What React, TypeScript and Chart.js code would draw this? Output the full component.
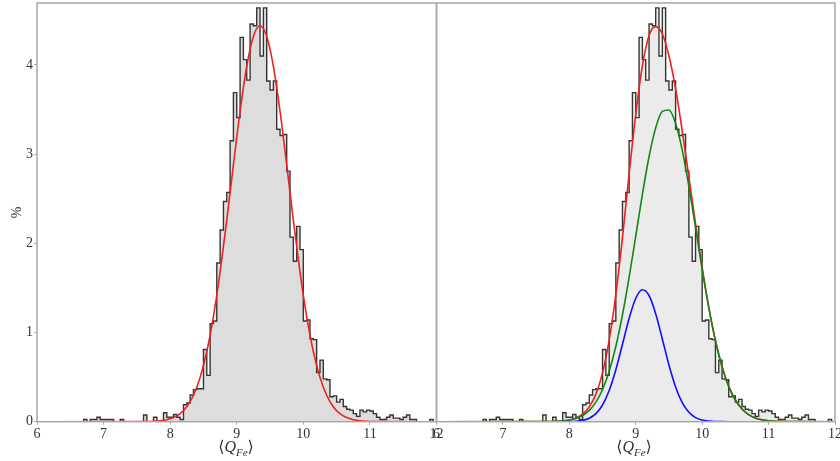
import React, { useEffect, useRef } from "react";
import { Chart, registerables } from "chart.js";

Chart.register(...registerables);

// ---------- data ----------
const BIN_START = 6;
const BIN_WIDTH = 0.05;
// percent per bin, bins of width 0.05 from 6.00 to 12.00
const HIST_PERCENT = [
  0, 0, 0, 0, 0, 0, 0, 0, 0, 0,
  0, 0, 0, 0, 0.025, 0, 0.025, 0.025, 0.05, 0.025,
  0.025, 0.025, 0.025, 0, 0, 0.025, 0, 0, 0, 0,
  0, 0, 0.075, 0, 0, 0.05, 0, 0, 0.1, 0.05,
  0.05, 0.08, 0.05, 0.025, 0.19, 0.21, 0.3, 0.36, 0.37, 0.37,
  0.81, 0.52, 1.1, 1.13, 1.78, 2.15, 2.47, 2.57, 3.15, 3.69,
  3.41, 4.31, 4.06, 3.83, 4.46, 4.44, 4.64, 4.1, 4.64, 3.82,
  3.72, 3.82, 3.28, 3.21, 3.22, 2.81, 2.07, 1.8, 2.19, 1.93,
  1.13, 1.14, 0.93, 0.92, 0.55, 0.69, 0.48, 0.47, 0.28, 0.29,
  0.22, 0.25, 0.17, 0.14, 0.13, 0.09, 0.06, 0.13, 0.11, 0.13,
  0.12, 0.09, 0.05, 0.025, 0.025, 0.05, 0.075, 0.04, 0.04, 0.025,
  0.05, 0.075, 0.025, 0.025, 0, 0, 0, 0, 0.025, 0,
];

const X_TICKS = [6, 7, 8, 9, 10, 11, 12];
const Y_TICKS = [0, 1, 2, 3, 4];
const X_MIN = 6;
const X_MAX = 12;
const Y_MAX = 4.695;

// single-component fit (left panel)
const LEFT_FIT_X = [
  6, 7.65, 7.75, 7.85, 7.95, 8.05, 8.15, 8.25, 8.35, 8.45, 8.55, 8.65, 8.75, 8.85,
  8.95, 9.05, 9.15, 9.25, 9.35, 9.45, 9.55, 9.65, 9.75, 9.85, 9.95, 10.05, 10.15,
  10.25, 10.35, 10.45, 10.55, 10.65, 10.75, 10.85, 10.95, 11.05, 12,
];
const LEFT_FIT_Y = [
  0, 0.0018, 0.0044, 0.0101, 0.0222, 0.046, 0.0904, 0.168, 0.297, 0.497, 0.787,
  1.18, 1.677, 2.258, 2.881, 3.481, 3.985, 4.321, 4.44, 4.321, 3.985, 3.481, 2.881,
  2.258, 1.677, 1.18, 0.787, 0.497, 0.297, 0.168, 0.0904, 0.046, 0.0222, 0.0101,
  0.0044, 0.0018, 0,
];

// two-component fit (right panel)
const RIGHT_FIT_X = [
  6, 7.6, 7.7, 7.8, 7.9, 8.0, 8.1, 8.2, 8.3, 8.4, 8.5, 8.6, 8.7, 8.8, 8.9, 9.0,
  9.1, 9.2, 9.3, 9.4, 9.5, 9.6, 9.7, 9.8, 9.9, 10.0, 10.1, 10.2, 10.3, 10.4, 10.5,
  10.6, 10.7, 10.8, 10.9, 11.0, 11.1, 11.2, 11.3, 12,
];
const RIGHT_TOTAL = [
  0, 0.0007, 0.0017, 0.004, 0.009, 0.0198, 0.0416, 0.0845, 0.166, 0.309, 0.548,
  0.915, 1.425, 2.065, 2.776, 3.45, 3.99, 4.33, 4.43, 4.35, 4.1, 3.734, 3.259,
  2.743, 2.222, 1.727, 1.283, 0.91, 0.615, 0.396, 0.243, 0.142, 0.079, 0.042,
  0.021, 0.01, 0.0046, 0.002, 0.0008, 0,
];
const RIGHT_COMP_WIDE = [
  0, 0.0007, 0.0017, 0.0039, 0.0086, 0.0182, 0.0365, 0.0696, 0.127, 0.219, 0.361,
  0.566, 0.843, 1.197, 1.618, 2.081, 2.549, 2.971, 3.295, 3.479, 3.496, 3.344,
  3.045, 2.638, 2.176, 1.709, 1.277, 0.908, 0.615, 0.396, 0.243, 0.142, 0.0788,
  0.0417, 0.021, 0.01, 0.0046, 0.002, 0.0008, 0,
];
const RIGHT_COMP_NARROW: (number | null)[] = [
  null, null, null, null, 0.0004, 0.0016, 0.0051, 0.0149, 0.0387, 0.09, 0.187,
  0.349, 0.582, 0.868, 1.158, 1.384, 1.479, 1.415, 1.211, 0.928, 0.636, 0.39,
  0.214, 0.105, 0.046, 0.018, 0.0064, 0.002, 0.0005, 0.0001, 0, 0, 0, 0, 0, 0,
  null, null, null, null,
];

const X_TITLE_MAIN = "Q";
const X_TITLE_SUB = "Fe";
const Y_TITLE = "%";

// ---------- styling ----------
const FONT_FAMILY = '"Liberation Serif", "DejaVu Serif", serif';
const TEXT_COLOR = "#333333";
const FRAME_COLOR = "#a8a8a8";

const framePlugin = {
  id: "frame",
  afterDatasetsDraw(chart: any) {
    const { ctx, chartArea } = chart;
    ctx.save();
    ctx.strokeStyle = FRAME_COLOR;
    ctx.lineWidth = 1.5;
    ctx.strokeRect(
      chartArea.left,
      chartArea.top,
      chartArea.right - chartArea.left,
      chartArea.bottom - chartArea.top
    );
    ctx.restore();
  },
};

function pts(xs: number[], ys: (number | null)[]) {
  return xs.map((x, i) => ({ x, y: ys[i] }));
}

function histPoints() {
  const p = HIST_PERCENT.map((v, i) => ({ x: BIN_START + i * BIN_WIDTH, y: v }));
  p.push({ x: BIN_START + HIST_PERCENT.length * BIN_WIDTH, y: 0 });
  return p;
}

function curve(data: any, color: string) {
  return {
    type: "line",
    data,
    borderColor: color,
    borderWidth: 1.6,
    pointRadius: 0,
    fill: false,
    cubicInterpolationMode: "monotone",
    spanGaps: false,
  };
}

function histDataset(fillColor: string) {
  return {
    type: "line",
    data: histPoints(),
    stepped: true,
    borderColor: "rgba(20,20,20,0.85)",
    borderWidth: 1.4,
    pointRadius: 0,
    fill: "origin",
    backgroundColor: fillColor,
  };
}

function zeroPad(s: any) {
  s.paddingTop = 0;
  s.paddingBottom = 0;
  s.paddingLeft = 0;
  s.paddingRight = 0;
}

function makeOptions(isLeft: boolean) {
  const tickFont = { family: FONT_FAMILY, size: 14 };
  return {
    responsive: false,
    animation: false,
    devicePixelRatio: 1,
    layout: {
      padding: isLeft
        ? { left: 0, top: 3, right: 403.5, bottom: 0 }
        : { left: 436.5, top: 3, right: 5, bottom: 0 },
    },
    plugins: { legend: { display: false }, tooltip: { enabled: false } },
    scales: {
      x: {
        type: "linear",
        min: X_MIN,
        max: X_MAX,
        afterBuildTicks: (s: any) => {
          s.ticks = X_TICKS.map((v) => ({ value: v }));
        },
        afterFit: (s: any) => {
          s.height = 39.3;
          zeroPad(s);
        },
        ticks: {
          font: tickFont,
          color: TEXT_COLOR,
          padding: 1,
          maxRotation: 0,
          autoSkip: false,
          callback: (v: any) => String(v),
        },
        grid: {
          drawOnChartArea: false,
          drawTicks: true,
          tickLength: 3,
          color: FRAME_COLOR,
        },
        border: { display: false },
      },
      y: {
        type: "linear",
        display: isLeft,
        min: 0,
        max: Y_MAX,
        afterBuildTicks: (s: any) => {
          s.ticks = Y_TICKS.map((v) => ({ value: v }));
        },
        afterFit: (s: any) => {
          s.width = isLeft ? 37 : 0;
          zeroPad(s);
        },
        ticks: {
          font: tickFont,
          color: TEXT_COLOR,
          padding: 1,
          callback: (v: any) => String(v),
        },
        grid: {
          drawOnChartArea: false,
          drawTicks: true,
          tickLength: 3,
          color: FRAME_COLOR,
        },
        border: { display: false },
        title: {
          display: true,
          text: Y_TITLE,
          font: { family: FONT_FAMILY, size: 14 },
          color: TEXT_COLOR,
          padding: { top: 9, bottom: 0 },
        },
      },
    },
  };
}

export default function App() {
  const leftRef = useRef<HTMLCanvasElement>(null);
  const rightRef = useRef<HTMLCanvasElement>(null);

  useEffect(() => {
    const left = new Chart(leftRef.current as HTMLCanvasElement, {
      type: "line",
      data: {
        datasets: [
          curve(pts(LEFT_FIT_X, LEFT_FIT_Y), "#f02020"),
          histDataset("#dddddd"),
        ] as any,
      },
      options: makeOptions(true) as any,
      plugins: [framePlugin],
    });
    const right = new Chart(rightRef.current as HTMLCanvasElement, {
      type: "line",
      data: {
        datasets: [
          curve(pts(RIGHT_FIT_X, RIGHT_COMP_NARROW), "#1010ff"),
          curve(pts(RIGHT_FIT_X, RIGHT_COMP_WIDE), "#118811"),
          curve(pts(RIGHT_FIT_X, RIGHT_TOTAL), "#f02020"),
          histDataset("#ebebeb"),
        ] as any,
      },
      options: makeOptions(false) as any,
      plugins: [framePlugin],
    });
    return () => {
      left.destroy();
      right.destroy();
    };
  }, []);

  const titleStyle = (cx: number): React.CSSProperties => ({
    position: "absolute",
    left: cx,
    top: 439,
    transform: "translateX(-50%)",
    fontFamily: FONT_FAMILY,
    fontSize: 16,
    lineHeight: "16px",
    color: TEXT_COLOR,
    whiteSpace: "nowrap",
  });
  const subStyle: React.CSSProperties = {
    fontSize: 11,
    fontStyle: "italic",
    verticalAlign: "-4px",
    lineHeight: "0",
  };

  return (
    <div
      style={{
        position: "absolute",
        left: 0,
        top: 0,
        width: 840,
        height: 461,
        background: "#ffffff",
        overflow: "hidden",
      }}
    >
      <canvas
        ref={leftRef}
        width={840}
        height={461}
        style={{ position: "absolute", left: 0, top: 0 }}
      />
      <canvas
        ref={rightRef}
        width={840}
        height={461}
        style={{ position: "absolute", left: 0, top: 0 }}
      />
      <div style={titleStyle(236)}>
        ⟨<i>{X_TITLE_MAIN}</i>
        <span style={subStyle}>{X_TITLE_SUB}</span>⟩
      </div>
      <div style={titleStyle(634)}>
        ⟨<i>{X_TITLE_MAIN}</i>
        <span style={subStyle}>{X_TITLE_SUB}</span>⟩
      </div>
    </div>
  );
}
